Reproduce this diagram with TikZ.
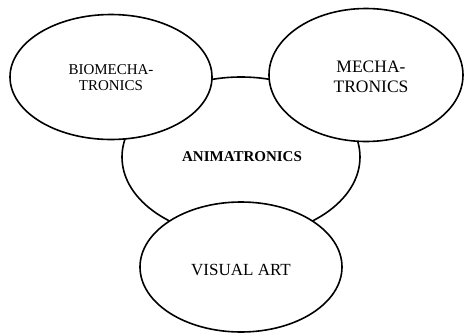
\documentclass[tikz,border=0pt]{standalone}
\usepackage{fontspec}
\setmainfont{Liberation Serif}
\usetikzlibrary{shapes.geometric}
\tikzset{
  blob/.style={ellipse, draw=black, line width=1.6pt, fill=white, inner sep=0pt, align=center},
}
\begin{document}
\begin{tikzpicture}[x=1pt,y=-1pt]
\useasboundingbox (0,0) rectangle (464,333);
\node[blob, minimum width=238pt, minimum height=160pt] (anim) at (241,157) {};
\node[blob, minimum width=202pt, minimum height=125pt] (bio) at (111,77) {};
\node[blob, minimum width=194pt, minimum height=133pt] (mech) at (366,75) {};
\node[blob, minimum width=202pt, minimum height=130pt] (vis) at (241,267) {};
\node[font=\fontsize{15}{16}\selectfont\bfseries] (animt) at (242,157) {ANIMATRONICS};
\node[font=\fontsize{15}{16}\selectfont, align=center] (biot) at (111,78) {BIOMECHA-\\TRONICS};
\node[font=\fontsize{17.5}{20}\selectfont, align=center] (mecht) at (371,77) {MECHA-\\TRONICS};
\node[font=\fontsize{17}{18}\selectfont] (vist) at (241,270) {VISUAL ART};
\end{tikzpicture}
\end{document}
